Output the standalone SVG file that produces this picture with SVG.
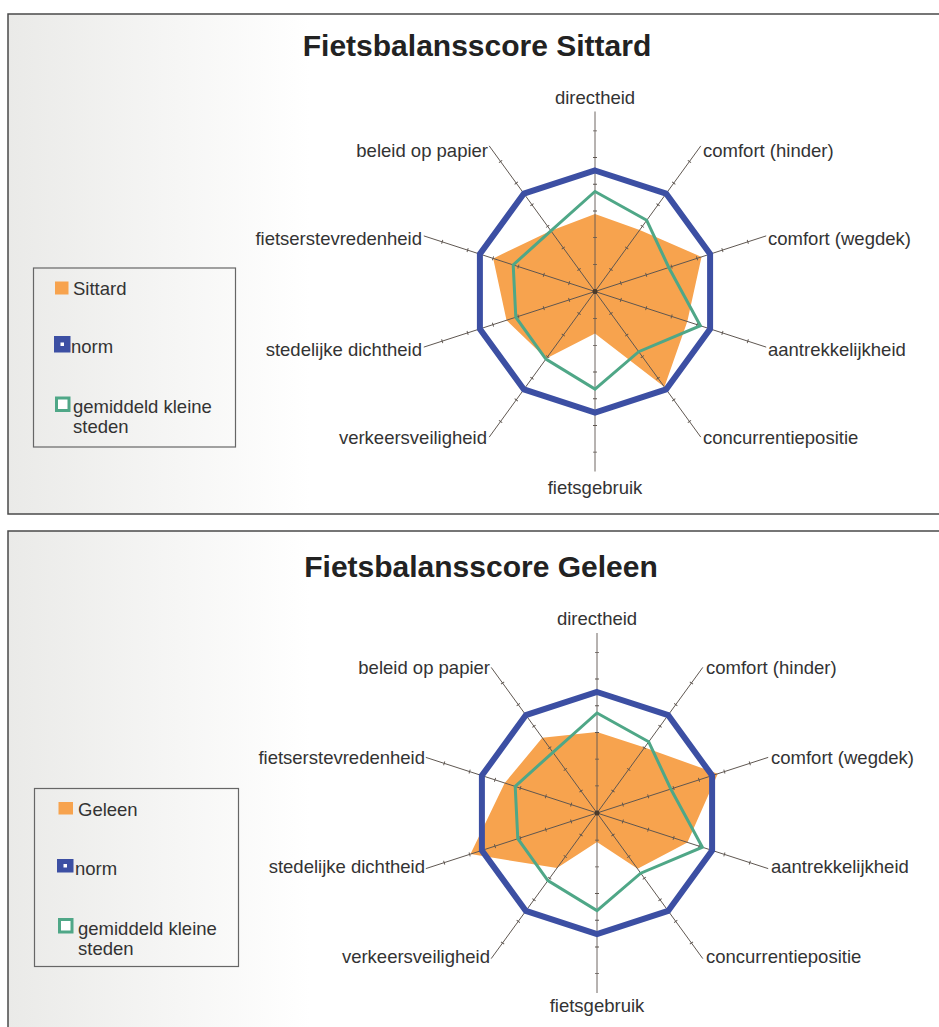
<svg xmlns="http://www.w3.org/2000/svg" width="939" height="1027" viewBox="0 0 939 1027">
<defs>
<linearGradient id="bg" x1="0" y1="0" x2="1" y2="0">
<stop offset="0" stop-color="#eaeae8"/>
<stop offset="0.18" stop-color="#f6f6f5"/>
<stop offset="0.32" stop-color="#ffffff"/>
</linearGradient>
<g id="axes">
<line x1="0" y1="0" x2="0" y2="-180" class="ax"/>
<line x1="0" y1="0" x2="0" y2="-170" class="tk"/>
</g>
<g id="spokes">
<use href="#axes"/>
<use href="#axes" transform="rotate(36)"/>
<use href="#axes" transform="rotate(72)"/>
<use href="#axes" transform="rotate(108)"/>
<use href="#axes" transform="rotate(144)"/>
<use href="#axes" transform="rotate(180)"/>
<use href="#axes" transform="rotate(216)"/>
<use href="#axes" transform="rotate(252)"/>
<use href="#axes" transform="rotate(288)"/>
<use href="#axes" transform="rotate(324)"/>
<circle r="2.5" fill="#4a3a2a"/>
</g>
</defs>
<style>
.frame{fill:url(#bg);stroke:#4a4a4a;stroke-width:1.5}
.title{font-family:"Liberation Sans",Arial,sans-serif;font-weight:bold;font-size:30px;fill:#222}
.lbl{font-family:"Liberation Sans",Arial,sans-serif;font-size:18.5px;fill:#333}
.leg{font-family:"Liberation Sans",Arial,sans-serif;font-size:18.5px;fill:#333}
.legbox{fill:none;stroke:#666;stroke-width:1.2}
.ax{stroke:#5e5650;stroke-width:0.9}
.tk{stroke:#5e5650;stroke-width:4;stroke-dasharray:0.9 25.8}
.city{fill:#f7a34e;stroke:none}
.norm{fill:none;stroke:#3c4fa3;stroke-width:6;stroke-linejoin:miter}
.avg{fill:none;stroke:#4fa787;stroke-width:3;stroke-linejoin:miter}
</style>

<!-- Chart 1: Sittard -->
<g id="panel-sittard">
<rect class="frame" x="8" y="14" width="945" height="500"/>
<text class="title" x="477" y="56" text-anchor="middle">Fietsbalansscore Sittard</text>
<g id="sittard-radar">
<polygon id="sittard-area" class="city" points="595,214 639.7,230 701.5,256.9 687.3,321.5 664.4,387 595,333.5 546.2,358.6 506.5,320.2 493.2,258.4 550.9,230.8"/>
<g id="sittard-axes" transform="translate(595,291.5)"><use href="#spokes"/></g>
<polygon id="sittard-avg" class="avg" points="595,191.5 646.7,220.3 668.8,267.5 700.4,325.7 638.7,351.7 595,389.1 545.9,359.1 515.8,317.2 513.2,264.9 550.9,230.8"/>
<polygon id="sittard-norm" class="norm" points="595,170.5 666.1,193.6 710.1,254.1 710.1,328.9 666.1,389.4 595,412.5 523.9,389.4 479.9,328.9 479.9,254.1 523.9,193.6"/>
</g>
<g id="sittard-labels">
<text class="lbl" x="595" y="104" text-anchor="middle">directheid</text>
<text class="lbl" x="703" y="157">comfort (hinder)</text>
<text class="lbl" x="768" y="245">comfort (wegdek)</text>
<text class="lbl" x="768" y="356">aantrekkelijkheid</text>
<text class="lbl" x="703" y="444">concurrentiepositie</text>
<text class="lbl" x="595" y="494" text-anchor="middle">fietsgebruik</text>
<text class="lbl" x="487" y="444" text-anchor="end">verkeersveiligheid</text>
<text class="lbl" x="422" y="356" text-anchor="end">stedelijke dichtheid</text>
<text class="lbl" x="422" y="245" text-anchor="end">fietserstevredenheid</text>
<text class="lbl" x="488" y="157" text-anchor="end">beleid op papier</text>
</g>
<g id="sittard-legend">
<rect class="legbox" x="33.5" y="268" width="202" height="179"/>
<rect x="55" y="281.5" width="13.5" height="13" fill="#f7a34e"/>
<text class="leg" x="73" y="295">Sittard</text>
<rect x="54" y="336" width="16.5" height="16.5" fill="#3c4fa3"/>
<rect x="60.5" y="342.5" width="3.5" height="3.5" fill="#fff"/>
<text class="leg" x="71" y="353">norm</text>
<rect x="56.5" y="398" width="12.5" height="12.5" fill="#fff" stroke="#4fa787" stroke-width="3"/>
<text class="leg" x="73" y="413">gemiddeld kleine</text>
<text class="leg" x="73" y="433">steden</text>
</g>
</g>

<!-- Chart 2: Geleen -->
<g id="panel-geleen">
<rect class="frame" x="8" y="531" width="945" height="510"/>
<text class="title" x="481" y="577" text-anchor="middle">Fietsbalansscore Geleen</text>
<g id="geleen-radar">
<polygon id="geleen-area" class="city" points="597,732 644.6,747.5 717.8,773.8 687.4,842.4 637.6,868.8 597,842 557,868 470.5,854.1 504.7,783 542.3,737.8"/>
<g id="geleen-axes" transform="translate(597,813)"><use href="#spokes"/></g>
<polygon id="geleen-avg" class="avg" points="597,713 648.7,741.8 670.8,789 702.4,847.2 640.7,873.2 597,910.6 547.9,880.6 517.8,838.7 515.2,786.4 552.9,752.3"/>
<polygon id="geleen-norm" class="norm" points="597,692 668.1,715.1 712.1,775.6 712.1,850.4 668.1,910.9 597,934 525.9,910.9 481.9,850.4 481.9,775.6 525.9,715.1"/>
</g>
<g id="geleen-labels">
<text class="lbl" x="597" y="625" text-anchor="middle">directheid</text>
<text class="lbl" x="706" y="674">comfort (hinder)</text>
<text class="lbl" x="771" y="764">comfort (wegdek)</text>
<text class="lbl" x="771" y="873">aantrekkelijkheid</text>
<text class="lbl" x="706" y="963">concurrentiepositie</text>
<text class="lbl" x="597" y="1012" text-anchor="middle">fietsgebruik</text>
<text class="lbl" x="490" y="963" text-anchor="end">verkeersveiligheid</text>
<text class="lbl" x="425" y="873" text-anchor="end">stedelijke dichtheid</text>
<text class="lbl" x="425" y="764" text-anchor="end">fietserstevredenheid</text>
<text class="lbl" x="490" y="674" text-anchor="end">beleid op papier</text>
</g>
<g id="geleen-legend">
<rect class="legbox" x="34.5" y="788.5" width="204" height="178"/>
<rect x="58.5" y="802" width="14.5" height="12.5" fill="#f7a34e"/>
<text class="leg" x="78" y="816">Geleen</text>
<rect x="57" y="859" width="16.5" height="13.5" fill="#3c4fa3"/>
<rect x="63.5" y="864" width="3.5" height="3.5" fill="#fff"/>
<text class="leg" x="75" y="875">norm</text>
<rect x="59.5" y="919.5" width="12.5" height="12.5" fill="#fff" stroke="#4fa787" stroke-width="3"/>
<text class="leg" x="78" y="935">gemiddeld kleine</text>
<text class="leg" x="78" y="955">steden</text>
</g>
</g>
</svg>
